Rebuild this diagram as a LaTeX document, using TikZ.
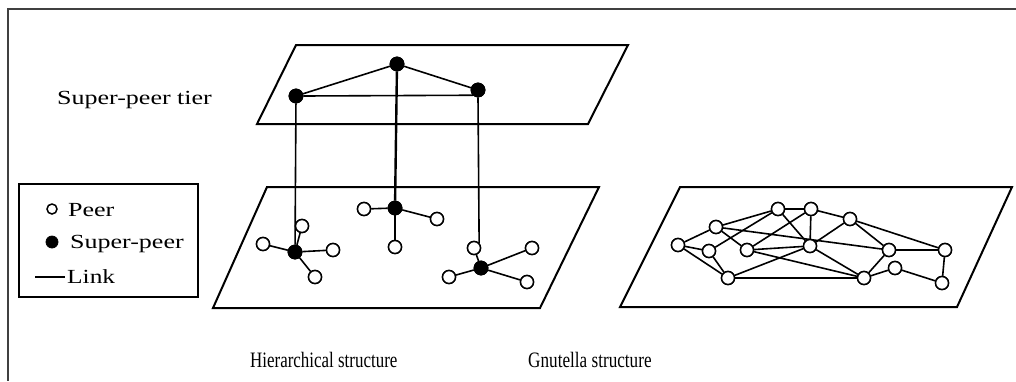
\documentclass[tikz,border=0pt]{standalone}
\usepackage{fontspec}
\setmainfont{Liberation Serif}
\usepackage{graphicx}
\begin{document}
\begin{tikzpicture}[x=1pt,y=-1pt,
  plane/.style={draw=black,line width=2pt,line join=miter},
  link/.style={draw=black,line width=1.6pt},
  peer/.style={circle,draw=black,fill=white,line width=1.5pt,minimum size=13pt,inner sep=0pt},
  sp/.style={circle,draw=black,fill=black,line width=0.8pt,minimum size=14pt,inner sep=0pt},
  lbl/.style={font=\fontsize{20}{24}\selectfont,inner sep=0pt,anchor=base west},
  captxt/.style={font=\fontsize{22}{26}\selectfont,inner sep=0pt,anchor=base west},
  frame/.style={draw=black!75,line width=2.2pt}]
\useasboundingbox (0,0) rectangle (1016,381);
% frame
\coordinate (f1) at (7,9);
\coordinate (f2) at (1016,9);
\coordinate (f3) at (8,381);
\draw[frame] (f2) -- (f1 -| f3) -- (f3);

% planes
\draw[plane] (296,45) -- (628,45) -- (588,124) -- (257,124) -- cycle;
\draw[plane] (267,187) -- (599,187) -- (540,308) -- (213,308) -- cycle;
\draw[plane] (680,187) -- (1012,187) -- (957,307) -- (620,307) -- cycle;

% upper super-peers
\node[sp] (u1) at (296,96) {};
\node[sp] (u2) at (397,64) {};
\node[sp] (u3) at (478,90) {};
% lower super-peers
\node[sp] (l1) at (295,252) {};
\node[sp] (l2) at (395,208) {};
\node[sp] (l3) at (481,268) {};
% peers
\node[peer] (p11) at (302,226) {};
\node[peer] (p12) at (263,244) {};
\node[peer] (p13) at (333,250) {};
\node[peer] (p14) at (315,277) {};
\node[peer] (p21) at (364,209) {};
\node[peer] (p22) at (437,219) {};
\node[peer] (p23) at (395,247) {};
\node[peer] (p31) at (474,248) {};
\node[peer] (p32) at (532,248) {};
\node[peer] (p33) at (449,277) {};
\node[peer] (p34) at (527,282) {};

% links
\draw[link] (u1) -- (u2) -- (u3);
\draw[link] (u1.east) -- (u3.south west);
\draw[link] (u1) -- (l1);
\draw[link,line width=2.4pt] (u2) -- (l2);
\draw[link] (u3.south) -- (p31.north east);
\foreach \p in {p11,p12,p13,p14} \draw[link] (l1) -- (\p);
\foreach \p in {p21,p22,p23} \draw[link] (l2) -- (\p);
\foreach \p in {p31,p32,p33,p34} \draw[link] (l3) -- (\p);
% redraw nodes on top
\foreach \p in {u1,u2,u3,l1,l2,l3} \node[sp] at (\p) {};
\foreach \p in {p11,p12,p13,p14,p21,p22,p23,p31,p32,p33,p34} \node[peer] at (\p) {};

% Gnutella
\node[peer] (g1) at (678,245) {};
\node[peer] (g2) at (716,227) {};
\node[peer] (g3) at (778,209) {};
\node[peer] (g4) at (811,209) {};
\node[peer] (g5) at (850,219) {};
\node[peer] (g6) at (709,251) {};
\node[peer] (g7) at (747,250) {};
\node[peer] (g8) at (810,246) {};
\node[peer] (g9) at (889,250) {};
\node[peer] (g10) at (945,250) {};
\node[peer] (g11) at (728,278) {};
\node[peer] (g12) at (864,278) {};
\node[peer] (g13) at (895,268) {};
\node[peer] (g14) at (942,283) {};
\foreach \a/\b in {g1/g2,g1/g6,g1/g11,g2/g3,g2/g7,g2/g9,g3/g4,g3/g6,g3/g8,g4/g7,g4/g8,g4/g5,g5/g8,g5/g9,g5/g10,g6/g11,g7/g8,g7/g12,g11/g8,g11/g12,g8/g12,g9/g12,g9/g10,g12/g13,g13/g14,g10/g14}
  \draw[link] (\a) -- (\b);
\foreach \p in {g1,g2,g3,g4,g5,g6,g7,g8,g9,g10,g11,g12,g13,g14} \node[peer] at (\p) {};

% legend
\node[draw=black,line width=2pt,minimum width=179pt,minimum height=113pt,inner sep=0pt,anchor=north west] (leg) at (18,183) {};
\node[peer,minimum size=10pt] (lp) at (52,209) {};
\node[sp,minimum size=12pt] (ls) at (52,242) {};
\coordinate (la) at (35,277);
\coordinate (lb) at (65,277);
\draw[link,line width=1.3pt] (la) -- (lb);
\node[lbl] (tp) at (68,216) {\scalebox{1.30}[1]{Peer}};
\node[lbl] (ts) at (70,248) {\scalebox{1.30}[1]{Super-peer}};
\node[lbl] (tl) at (67,283) {\scalebox{1.27}[1]{Link}};

% labels
\node[lbl] (tier) at (57,104) {\scalebox{1.30}[1]{Super-peer tier}};
\node[captxt] (hs) at (250,367) {\scalebox{0.77}[1]{Hierarchical structure}};
\node[captxt] (gs) at (528,367) {\scalebox{0.78}[1]{Gnutella structure}};
\end{tikzpicture}
\end{document}
